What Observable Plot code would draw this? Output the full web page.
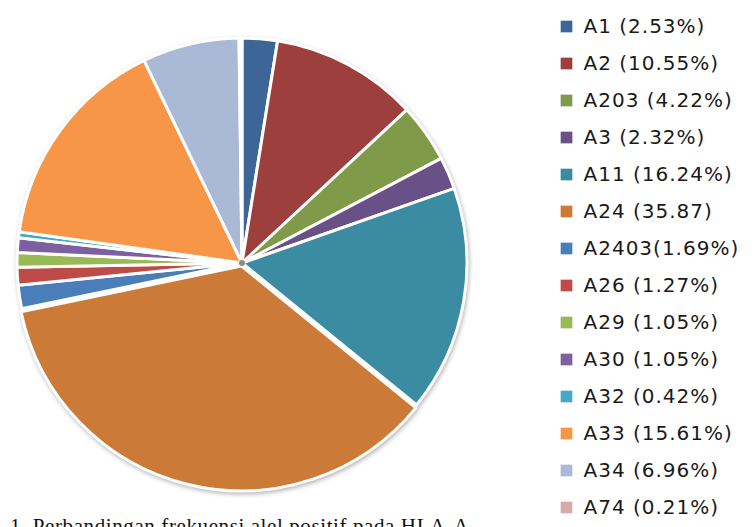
<!DOCTYPE html>
<html>
<head>
<meta charset="utf-8">
<script src="https://cdn.jsdelivr.net/npm/d3@7"></script>
<script src="https://cdn.jsdelivr.net/npm/@observablehq/plot@0.6"></script>
<style>
  html, body { margin: 0; padding: 0; background: #fff; overflow: hidden; }
  #wrap { position: relative; width: 754px; height: 527px; overflow: hidden; }
  #caption { position: absolute; left: 10px; top: 514px; font-family: "Liberation Serif", "DejaVu Serif", serif; font-size: 21px; color: #111; white-space: nowrap; letter-spacing: 0.6px; }
</style>
</head>
<body>
<div id="wrap"><div id="chart"></div><div id="caption"></div></div>
<script>
// ---- data ----
const keys = ["A1", "A2", "A203", "A3", "A11", "A24", "A2403", "A26", "A29", "A30", "A32", "A33", "A34", "A74"];
const values = [2.53, 10.55, 4.22, 2.32, 16.24, 35.87, 1.69, 1.27, 1.05, 1.05, 0.42, 15.61, 6.96, 0.21];
const labels = ["A1 (2.53%)", "A2 (10.55%)", "A203 (4.22%)", "A3 (2.32%)", "A11 (16.24%)", "A24 (35.87)", "A2403(1.69%)", "A26 (1.27%)", "A29 (1.05%)", "A30 (1.05%)", "A32 (0.42%)", "A33 (15.61%)", "A34 (6.96%)", "A74 (0.21%)"];
const colors = ["#3d6598", "#9c3f3d", "#7f9a48", "#695087", "#3b8ba2", "#cc7a37", "#4a7ebb", "#be4b48", "#98b954", "#7d60a0", "#46aac5", "#f79646", "#a9b9d6", "#d9a9a9"];
const explodedKey = "A24";
const captionText = "1. Perbandingan frekuensi alel positif pada HLA-A";

const data = keys.map((k, i) => ({key: k, value: values[i], label: labels[i]}));

// ---- layout ----
const pieCx = 242, pieCy = 263, pieR = 225, explode = 3;

function pieMark(index, scales, vals, dims) {
  const color = scales && scales.color ? scales.color : d3.scaleOrdinal(keys, colors);
  const arcs = d3.pie().sort(null).value(d => d.value)(data);
  const arc = d3.arc().innerRadius(0).outerRadius(pieR);
  const g = d3.create("svg:g")
    .attr("transform", `translate(${pieCx},${pieCy})`)
    .style("filter", "drop-shadow(1px 2px 2px rgba(0,0,0,0.28))");
  g.selectAll("path").data(arcs).join("path")
    .attr("d", arc)
    .attr("fill", d => color(d.data.key))
    .attr("stroke", "#fff")
    .attr("stroke-width", 3)
    .attr("stroke-linejoin", "round")
    .attr("transform", d => {
      if (d.data.key !== explodedKey) return null;
      const a = (d.startAngle + d.endAngle) / 2;
      return `translate(${Math.sin(a) * explode},${-Math.cos(a) * explode})`;
    });
  g.append("circle").attr("r", 3).attr("fill", "#8a8a8a");
  return g.node();
}

const chart = Plot.plot({
  width: 754,
  height: 527,
  margin: 0,
  style: {fontFamily: "DejaVu Sans, sans-serif", background: "#fff", letterSpacing: "1px", overflow: "visible"},
  x: {axis: null},
  y: {type: "point", domain: keys, range: [20, 513], padding: 0, axis: null},
  color: {type: "ordinal", domain: keys, range: colors},
  marks: [
    pieMark,
    Plot.dot(data, {y: "key", fill: "key", symbol: "square", r: 6.6, frameAnchor: "left", dx: 566}),
    Plot.text(data, {y: "key", text: "label", frameAnchor: "left", dx: 583, textAnchor: "start", lineAnchor: "middle", fontSize: 20, fill: "#1a1a1a"})
  ]
});
document.getElementById("chart").appendChild(chart);
document.getElementById("caption").textContent = captionText;
</script>
</body>
</html>
